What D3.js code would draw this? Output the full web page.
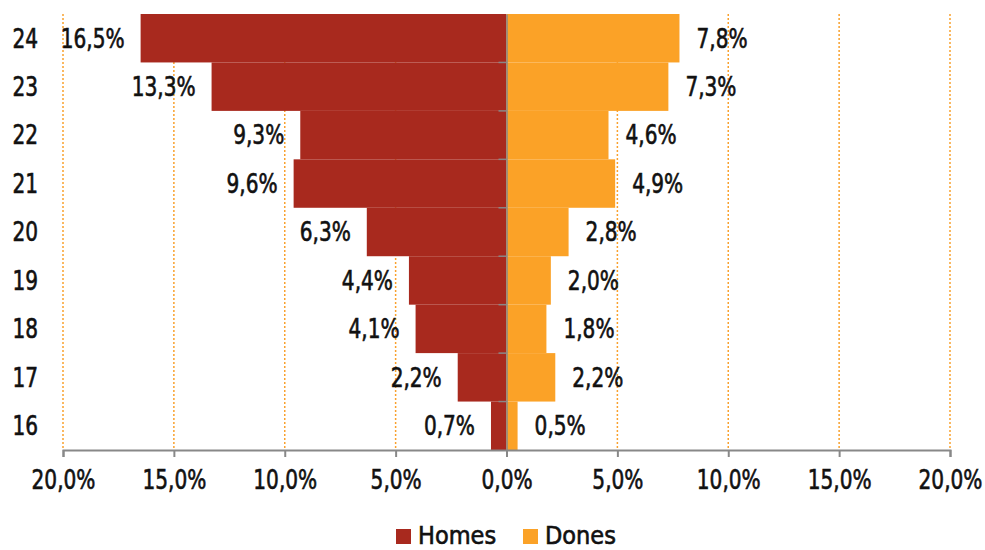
<!DOCTYPE html>
<html>
<head>
<meta charset="utf-8">
<script src="https://cdn.jsdelivr.net/npm/d3@7"></script>
<style>
  body { margin: 0; background: #fff; }
  text { font-family: "DejaVu Sans Condensed", "DejaVu Sans", sans-serif; fill: #111;
         stroke: #111; stroke-width: 0.6px; font-size: 26px; }
</style>
</head>
<body>
<svg id="chart" width="985" height="550"></svg>
<script>
// ages, top to bottom
var ages = ["24", "23", "22", "21", "20", "19", "18", "17", "16"];
var homes = [16.5, 13.3, 9.3, 9.6, 6.3, 4.4, 4.1, 2.2, 0.7];
var dones = [7.8, 7.3, 4.6, 4.9, 2.8, 2.0, 1.8, 2.2, 0.5];
var xTicks = [-20, -15, -10, -5, 0, 5, 10, 15, 20];
var seriesNames = ["Homes", "Dones"];
var colors = ["#A8291E", "#FBA227"];

var svg = d3.select("#chart");
var fmt = function(v) { return Math.abs(v).toFixed(1).replace(".", ",") + "%"; };
var narrow = 0.86; // squeeze the font sideways, the original is a condensed DIN-like face

var x = d3.scaleLinear().domain([-20, 20]).range([63, 950]);
var y = d3.scaleBand().domain(ages).range([14, 450]).padding(0);

function place(sel, fx, fy) {
    sel.attr("transform", function(d, i) {
        return "translate(" + fx(d, i) + "," + fy(d, i) + ") scale(" + narrow + ",1)";
    });
}

// dotted grid lines
svg.append("g").selectAll("line")
    .data(xTicks.filter(function(d) { return d != 0; }))
    .enter().append("line")
    .attr("x1", function(d) { return x(d); })
    .attr("x2", function(d) { return x(d); })
    .attr("y1", 14).attr("y2", 450)
    .attr("stroke", "#F9A12E")
    .attr("stroke-width", 1.5)
    .attr("stroke-dasharray", "2,2");

// bars
svg.append("g").selectAll("rect")
    .data(homes)
    .enter().append("rect")
    .attr("x", function(d) { return x(-d); })
    .attr("width", function(d) { return x(0) - x(-d); })
    .attr("y", function(d, i) { return y(ages[i]); })
    .attr("height", y.bandwidth())
    .attr("fill", colors[0]);

svg.append("g").selectAll("rect")
    .data(dones)
    .enter().append("rect")
    .attr("x", x(0))
    .attr("width", function(d) { return x(d) - x(0); })
    .attr("y", function(d, i) { return y(ages[i]); })
    .attr("height", y.bandwidth())
    .attr("fill", colors[1]);

// value labels
svg.append("g").selectAll("text")
    .data(homes)
    .enter().append("text")
    .attr("dy", "0.36em")
    .attr("text-anchor", "end")
    .text(function(d) { return fmt(d); })
    .call(place, function(d) { return x(-d) - 16; },
          function(d, i) { return y(ages[i]) + y.bandwidth() / 2; });

svg.append("g").selectAll("text")
    .data(dones)
    .enter().append("text")
    .attr("dy", "0.36em")
    .attr("text-anchor", "start")
    .text(function(d) { return fmt(d); })
    .call(place, function(d) { return x(d) + 17; },
          function(d, i) { return y(ages[i]) + y.bandwidth() / 2; });

// x axis
var xAxis = svg.append("g")
    .attr("transform", "translate(0,450)")
    .call(d3.axisBottom(x).tickValues(xTicks).tickSize(7).tickPadding(14).tickFormat(fmt));
xAxis.select(".domain").attr("stroke", "#888").attr("stroke-width", 2);
xAxis.selectAll(".tick line").attr("stroke", "#888").attr("stroke-width", 2);
xAxis.selectAll("text")
    .attr("fill", "#111")
    .attr("transform", "scale(" + narrow + ",1)");
xAxis.attr("font-size", null).attr("font-family", null);

// centre category axis
var yAxis = svg.append("g")
    .attr("transform", "translate(" + x(0) + ",0)")
    .call(d3.axisLeft(y).tickSize(0).tickFormat(""));
yAxis.select(".domain").attr("stroke", "#888").attr("stroke-width", 1.5);
svg.append("g").selectAll("line")
    .data(ages.slice(1))
    .enter().append("line")
    .attr("x1", x(0) - 8).attr("x2", x(0))
    .attr("y1", function(d) { return y(d); })
    .attr("y2", function(d) { return y(d); })
    .attr("stroke", "#888").attr("stroke-width", 1.5);

// age labels on the left
svg.append("g").selectAll("text")
    .data(ages)
    .enter().append("text")
    .attr("dy", "0.36em")
    .attr("text-anchor", "end")
    .text(function(d) { return d; })
    .call(place, function() { return 38; },
          function(d) { return y(d) + y.bandwidth() / 2; });

// legend
var legendX = [396, 523];
var legend = svg.append("g").selectAll("g")
    .data(seriesNames)
    .enter().append("g")
    .attr("transform", function(d, i) { return "translate(" + legendX[i] + ",529)"; });
legend.append("rect").attr("width", 15).attr("height", 15)
    .attr("fill", function(d, i) { return colors[i]; });
legend.append("text")
    .text(function(d) { return d; })
    .style("font-size", "25px")
    .attr("transform", "translate(22,15)");
</script>
</body>
</html>
